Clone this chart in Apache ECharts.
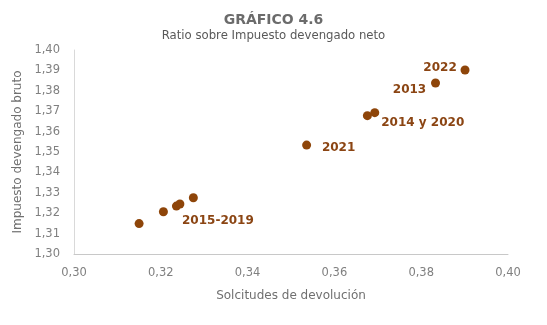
<!DOCTYPE html>
<html>
<head>
<meta charset="utf-8">
<script src="https://cdn.jsdelivr.net/npm/echarts@6/dist/echarts.min.js"></script>
<style>html,body{margin:0;padding:0;background:#fff}#c{width:547px;height:325px}</style>
</head>
<body>
<div id="c"></div>
<script>
var years = ['2015','2016','2017','2018','2019','2021','2014','2020','2013','2022'];
var solicitudes = [0.3150, 0.3206, 0.3236, 0.3244, 0.3275, 0.3536, 0.3676, 0.3693, 0.3833, 0.3901];
var brutoNeto = [1.3149, 1.3207, 1.3235, 1.3245, 1.3276, 1.3534, 1.3678, 1.3693, 1.3838, 1.3902];
var labelTexts = ['', '', '', '2015-2019', '', '2021', '', '2014 y 2020', '2013', '2022'];
var xTicks = ['0,30','0,32','0,34','0,36','0,38','0,40'];
var yTicks = ['1,30','1,31','1,32','1,33','1,34','1,35','1,36','1,37','1,38','1,39','1,40'];

var FF = '"DejaVu Sans", sans-serif';
var labelOffsets = {'2015-2019':[38,17], '2021':[32,3], '2014 y 2020':[48,10], '2013':[-26,7], '2022':[-25,-2]};

var data = solicitudes.map(function(x, i){
  var d = {value:[x, brutoNeto[i]], name: years[i]};
  var t = labelTexts[i];
  if (t) {
    d.label = {show:true, position:'inside', formatter:t, offset: labelOffsets[t],
      color:'#8B4513', fontWeight:'bold', fontSize:12, fontFamily:FF};
  }
  return d;
});

var chart = echarts.init(document.getElementById('c'), null, {renderer:'canvas'});
chart.setOption({
  animation:false,
  textStyle:{fontFamily:FF},
  title:[{text:'GRÁFICO 4.6', left:'center', top:8,
    textStyle:{fontFamily:FF, fontSize:14, fontWeight:'bold', color:'#6b6b6b'}},
    {text:'Ratio sobre Impuesto devengado neto', left:'center', top:25,
    textStyle:{fontFamily:FF, fontSize:11.7, fontWeight:'normal', color:'#595959'}}],
  grid:{left:74, right:39, top:50, bottom:71},
  xAxis:{type:'value', min:0.30, max:0.40, interval:0.02,
    name:'Solcitudes de devolución', nameLocation:'middle', nameGap:36,
    nameTextStyle:{fontFamily:FF, fontSize:12, color:'#707070'},
    axisLine:{show:true, lineStyle:{color:'#c8c8c8'}}, axisTick:{show:false},
    splitLine:{show:false},
    axisLabel:{fontFamily:FF, fontSize:11.5, color:'#808080', margin:13,
      formatter:function(v){ return xTicks[Math.round((v-0.30)/0.02)]; }}},
  yAxis:{type:'value', min:1.30, max:1.40, interval:0.01,
    name:'Impuesto devengado bruto', nameLocation:'middle', nameGap:45,
    nameTextStyle:{fontFamily:FF, fontSize:12, color:'#707070'},
    axisLine:{show:true, lineStyle:{color:'#d9d9d9'}}, axisTick:{show:false},
    splitLine:{show:false},
    axisLabel:{fontFamily:FF, fontSize:11.5, color:'#808080', margin:14,
      formatter:function(v){ return yTicks[Math.round((v-1.30)/0.01)]; }}},
  series:[{type:'scatter', symbolSize:9, itemStyle:{color:'#8E4509', opacity:1}, data:data}]
});
</script>
</body>
</html>
